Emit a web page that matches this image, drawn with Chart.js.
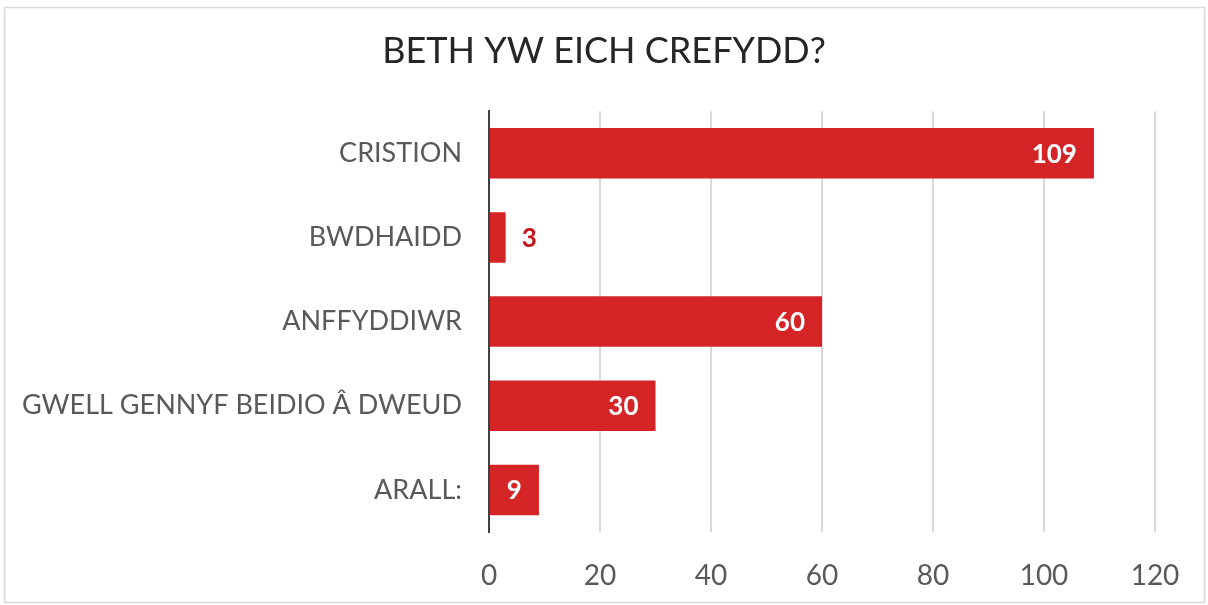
<!DOCTYPE html>
<html><head><meta charset="utf-8">
<script src="https://cdn.jsdelivr.net/npm/chart.js@4/dist/chart.umd.min.js"></script>
<style>html,body{margin:0;padding:0;background:#fff}#wrap{width:1208px;height:605px}</style>
</head><body><div id="wrap"><canvas id="c" width="1208" height="605"></canvas></div>
<script>
const categories = ["CRISTION", "BWDHAIDD", "ANFFYDDIWR", "GWELL GENNYF BEIDIO Â DWEUD", "ARALL:"];
const values = [109, 3, 60, 30, 9];
const tickValues = [0, 20, 40, 60, 80, 100, 120];
const titleText = "BETH YW EICH CREFYDD?";

const FONT = "Lato, 'Open Sans', sans-serif";

const framePlugin = {
  id: 'frame',
  beforeDraw(chart) {
    const ctx = chart.ctx;
    ctx.save();
    ctx.fillStyle = '#fff';
    ctx.fillRect(0, 0, chart.width, chart.height);
    ctx.strokeStyle = '#d9d9d9';
    ctx.lineWidth = 1.5;
    ctx.strokeRect(4.5, 7.5, 1200, 595);
    ctx.restore();
  }
};

const labelPlugin = {
  id: 'barLabels',
  afterDatasetsDraw(chart) {
    const ctx = chart.ctx;
    const meta = chart.getDatasetMeta(0);
    ctx.save();
    ctx.font = "bold 26px " + FONT;
    ctx.textBaseline = 'middle';
    meta.data.forEach((bar, i) => {
      const v = values[i];
      const w = bar.x - bar.base;
      const txt = String(v);
      const tw = ctx.measureText(txt).width;
      if (tw + 30 < w) {
        ctx.fillStyle = '#ffffff';
        ctx.textAlign = 'right';
        ctx.fillText(txt, bar.x - 17, bar.y + 1);
      } else {
        ctx.fillStyle = '#C8151B';
        ctx.textAlign = 'left';
        ctx.fillText(txt, bar.x + 16, bar.y + 1);
      }
    });
    ctx.restore();
  }
};

new Chart(document.getElementById('c'), {
  type: 'bar',
  data: {
    labels: categories,
    datasets: [{
      data: values,
      backgroundColor: '#D42426',
      borderWidth: 0,
      barPercentage: 0.6,
      categoryPercentage: 1.0
    }]
  },
  options: {
    indexAxis: 'y',
    responsive: false,
    animation: false,
    devicePixelRatio: 1,
    layout: { padding: { left: 0, right: 0, top: 0, bottom: 0 } },
    plugins: {
      legend: { display: false },
      tooltip: { enabled: false },
      title: {
        display: true,
        text: titleText,
        color: '#262626',
        font: { family: FONT, size: 36, weight: 'normal' },
        padding: { top: 30, bottom: 38 }
      }
    },
    scales: {
      x: {
        min: 0, max: 120,
        afterBuildTicks(scale) { scale.ticks = tickValues.map(v => ({ value: v })); },
        afterFit(scale) { scale.height = 73; },
        grid: { color: '#d9d9d9', lineWidth: 2, drawTicks: false },
        border: { display: false },
        ticks: { color: '#595959', padding: 27, font: { family: FONT, size: 28 } }
      },
      y: {
        afterFit(scale) { scale.width = 489; },
        grid: { display: false, drawTicks: false },
        border: { display: true, color: '#404040', width: 2 },
        ticks: { color: '#595959', padding: 27, font: { family: FONT, size: 27 } }
      },
      yRight: {
        type: 'category',
        position: 'right',
        display: true,
        afterFit(scale) { scale.width = 53; },
        grid: { display: false, drawTicks: false },
        border: { display: false },
        ticks: { display: false }
      }
    }
  },
  plugins: [framePlugin, labelPlugin]
});
</script></body></html>
